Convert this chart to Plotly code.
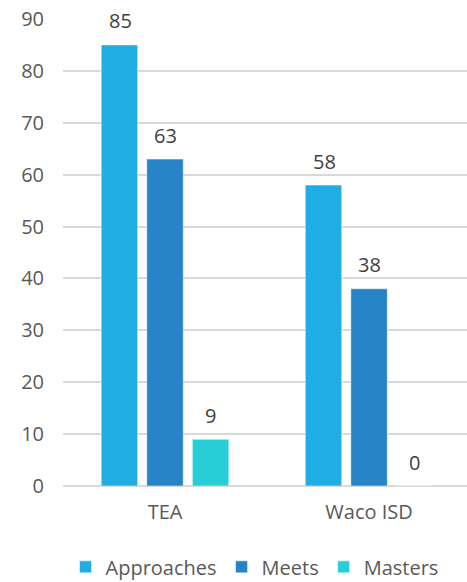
import plotly.graph_objects as go

categories = ["TEA", "Waco ISD"]
series_names = ["Approaches", "Meets", "Masters"]
approaches = [85, 58]
meets = [63, 38]
masters = [9, 0]
y_ticks = [0, 10, 20, 30, 40, 50, 60, 70, 80, 90]

colors = ["#1FADE4", "#2683C6", "#27CED7"]
values = [approaches, meets, masters]
FONT = "Open Sans"

fig = go.Figure()
for name, vals, col in zip(series_names, values, colors):
    fig.add_trace(go.Bar(
        name=name, x=categories, y=vals,
        marker=dict(color=col, line=dict(color="rgba(255,255,255,0.5)", width=1)),
    ))

offsets = [-45, 0, 45]
for vals, off in zip(values, offsets):
    for c, v in zip(categories, vals):
        fig.add_annotation(x=c, y=v, text=str(v), showarrow=False,
                           xref="x", yref="y", xshift=off, yshift=24,
                           yanchor="middle",
                           font=dict(family=FONT, size=20, color="#404040"))

fig.update_layout(
    width=467, height=582,
    margin=dict(l=63, r=0, t=19, b=96),
    paper_bgcolor="white", plot_bgcolor="white",
    barmode="group", bargap=0.33, bargroupgap=0.2,
    font=dict(family=FONT, size=20, color="#595959"),
    showlegend=True,
    legend=dict(orientation="h", x=0.545, xref="container", xanchor="center",
                y=0.026, yref="container", yanchor="middle",
                font=dict(family=FONT, size=20, color="#595959"),
                itemwidth=30, traceorder="normal"),
    xaxis=dict(range=[-0.5, 1.48], showgrid=False, showline=False, zeroline=False,
               ticks="", ticklabelstandoff=12,
               tickfont=dict(family=FONT, size=20, color="#595959")),
    yaxis=dict(range=[0, 90], tickvals=y_ticks, showgrid=True, gridcolor="#D9D9D9",
               gridwidth=1.5, zeroline=True, zerolinecolor="#D9D9D9", zerolinewidth=1.5,
               showline=False, ticks="", ticklabelstandoff=18,
               tickfont=dict(family=FONT, size=20, color="#595959")),
)

fig.write_html("out.html", config={"displayModeBar": False},
               post_script="document.body.style.margin='0';")
